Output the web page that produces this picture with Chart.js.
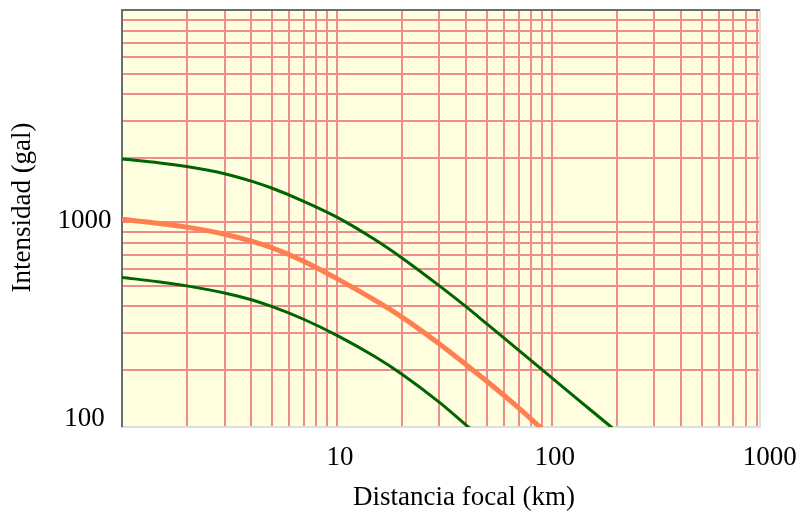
<!DOCTYPE html>
<html>
<head>
<meta charset="utf-8">
<script src="https://cdn.jsdelivr.net/npm/chart.js@4.4.0/dist/chart.umd.min.js"></script>
<style>
  html, body { margin: 0; padding: 0; background: #ffffff; }
  #wrap { width: 801px; height: 513px; }
</style>
</head>
<body>
<div id="wrap"><canvas id="c" width="801" height="513"></canvas></div>
<script>
// Attenuation of peak ground acceleration with focal distance.
// Focal distance (km) at which each curve is sampled.
const distances = [1, 1.5, 2, 3, 4, 5, 7, 10, 15, 20, 30, 40, 50, 70, 100, 150, 200];

// Intensity (gal) for the three curves; null where a curve has already left the plot.
const upperCurve  = [1981, 1901, 1826, 1691, 1560, 1443, 1253, 1055, 827, 679, 500, 398, 330, 249, 184, 131, 103];
const middleCurve = [1030, 985, 946, 876, 813, 755, 654, 541, 428, 357, 266, 212, 177, 133, 96, null, null];
const lowerCurve  = [548, 522, 500, 463, 430, 399, 348, 292, 232, 192, 141, 110, 91, null, null, null, null];

// Axis ranges
const xRange = [1, 930];
const yRange = [108, 10000];

// Axis tick labels
const xTickValues = [10, 100, 1000];
const xTickLabels = ['10', '100', '1000'];
const yTickValues = [100, 1000];
const yTickLabels = ['100', '1000'];

const xTitle = 'Distancia focal (km)';
const yTitle = 'Intensidad (gal)';

const FONT = '27px "Liberation Serif", "Times New Roman", serif';
const GREEN = '#006400';
const ORANGE = '#ff7f50';

function toPoints(values) {
  const pts = [];
  values.forEach((v, i) => { if (v !== null) pts.push({ x: distances[i], y: v }); });
  return pts;
}

// Log-paper grid: 1..9 in every decade inside the range
function logGrid(min, max) {
  const out = [];
  for (let e = Math.floor(Math.log10(min)); Math.pow(10, e) <= max; e++) {
    for (let m = 1; m <= 9; m++) {
      const v = m * Math.pow(10, e);
      if (v > min * 1.0001 && v < max * 0.9999) out.push({ value: v });
    }
  }
  return out;
}

const paper = {
  id: 'paper',
  beforeDraw(chart) {
    const { ctx, chartArea: a } = chart;
    ctx.save();
    ctx.fillStyle = '#ffffe0';
    ctx.fillRect(a.left, a.top, a.right - a.left, a.bottom - a.top);
    ctx.restore();
  },
  beforeDatasetsDraw(chart) {
    const { ctx, chartArea: a } = chart;
    ctx.save();
    // light lower/right edge, dark upper/left edge
    ctx.fillStyle = '#dedede';
    ctx.fillRect(a.left - 1, a.bottom - 1, a.right - a.left + 2, 2);
    ctx.fillRect(a.right - 1, a.top - 1, 2, a.bottom - a.top + 2);
    ctx.fillStyle = '#6c6c6c';
    ctx.fillRect(a.left - 1, a.top - 1, a.right - a.left + 1, 2);
    ctx.fillRect(a.left - 1, a.top - 1, 2, a.bottom - a.top + 1);
    ctx.restore();
  },
  afterDraw(chart) {
    const { ctx, chartArea: a } = chart;
    const xs = chart.scales.x, ys = chart.scales.y;
    ctx.save();
    ctx.fillStyle = '#000000';
    ctx.font = FONT;

    // x tick labels
    ctx.textAlign = 'center';
    ctx.textBaseline = 'alphabetic';
    xTickValues.forEach((v, i) => {
      ctx.fillText(xTickLabels[i], xs.getPixelForValue(v) + 3, 465);
    });

    // y tick labels, kept inside the vertical extent of the axis
    yTickValues.forEach((v, i) => {
      const p = ys.getPixelForValue(v);
      if (p > a.bottom) {
        ctx.textBaseline = 'alphabetic';
        ctx.fillText(yTickLabels[i], 84.5, a.bottom - 1);
      } else {
        ctx.textBaseline = 'middle';
        ctx.fillText(yTickLabels[i], 84.5, p - 1.5);
      }
    });

    // axis titles
    ctx.textBaseline = 'alphabetic';
    ctx.fillText(xTitle, 464, 505);
    ctx.translate(30, 207.5);
    ctx.rotate(-Math.PI / 2);
    ctx.fillText(yTitle, 0, 0);
    ctx.restore();
  }
};

const gridStyle = { color: '#f08c8c', lineWidth: 2, drawTicks: false };

new Chart(document.getElementById('c'), {
  type: 'line',
  data: {
    datasets: [
      { data: toPoints(upperCurve),  borderColor: GREEN,  borderWidth: 3 },
      { data: toPoints(middleCurve), borderColor: ORANGE, borderWidth: 5 },
      { data: toPoints(lowerCurve),  borderColor: GREEN,  borderWidth: 3 }
    ]
  },
  options: {
    responsive: false,
    animation: false,
    layout: { padding: { left: 0, top: 10, right: 41, bottom: 0 } },
    elements: {
      point: { radius: 0, hoverRadius: 0 },
      line: { cubicInterpolationMode: 'monotone', fill: false }
    },
    datasets: { line: { clip: 0 } },
    plugins: { legend: { display: false }, tooltip: { enabled: false } },
    scales: {
      x: {
        type: 'logarithmic',
        min: xRange[0], max: xRange[1],
        afterBuildTicks: s => { s.ticks = logGrid(s.min, s.max); },
        afterFit: s => { s.height = 86; },
        grid: gridStyle,
        border: { display: false },
        ticks: { display: false }
      },
      y: {
        type: 'logarithmic',
        min: yRange[0], max: yRange[1],
        afterBuildTicks: s => { s.ticks = logGrid(s.min, s.max); },
        afterFit: s => { s.width = 122; },
        grid: gridStyle,
        border: { display: false },
        ticks: { display: false }
      }
    }
  },
  plugins: [paper]
});
</script>
</body>
</html>
